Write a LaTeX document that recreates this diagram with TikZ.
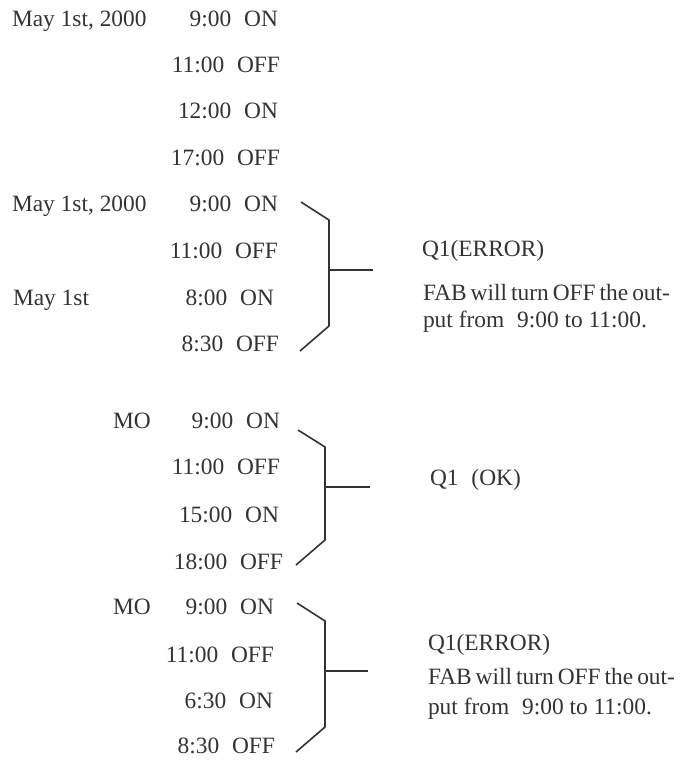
\documentclass[tikz,border=0pt]{standalone}
\usepackage{fontspec}
\setmainfont{Liberation Serif}
\usepackage{xcolor}
\usetikzlibrary{positioning}
\definecolor{inkgray}{HTML}{333333}
\newcommand{\gp}{\hspace{0.55em}}
\newcommand{\tight}{\spaceskip=0.17em\relax}

\begin{document}
\begin{tikzpicture}[x=0.5pt,y=-0.5pt,
    every node/.style={inner sep=0pt,outer sep=0pt,text=inkgray,font=\fontsize{11.7pt}{14pt}\selectfont},
    timebox/.style={anchor=base east},
    datebox/.style={anchor=base west},
    notebox/.style={anchor=base west},
    bracket/.style={draw=inkgray,line width=0.8pt}]
  \useasboundingbox (0,0) rectangle (682,761);
  % first list (no bracket)
  \foreach \y/\x/\txt [count=\i] in {26/278/9:00\gp ON,72/280/11:00\gp OFF,118/278/12:00\gp ON,165/280/17:00\gp OFF}
    \node[timebox] (a\i) at (\x,\y) {\txt};
  \node[datebox] (dateA) at (12,26) {May 1st, 2000};
  % second list
  \foreach \y/\x/\txt [count=\i] in {211/278/9:00\gp ON,258/278/11:00\gp OFF,305/274/8:00\gp ON,351/279/8:30\gp OFF}
    \node[timebox] (b\i) at (\x,\y) {\txt};
  \node[datebox] (dateB) at (12,211) {May 1st, 2000};
  \node[datebox] (dateC) at (13,305) {May 1st};
  \coordinate (b1a) at (301,202); \coordinate (b1b) at (329,220);
  \coordinate (b1c) at (329,326); \coordinate (b1d) at (300,351);
  \coordinate (b1m) at (329,270); \coordinate (b1e) at (373,270);
  \draw[bracket] (b1a) -- (b1b) -- (b1c) -- (b1d);
  \draw[bracket] (b1m) -- (b1e);
  \node[notebox] (errA) at (422,256) {Q1(ERROR)};
  \node[notebox] (fabA) at (423,300) {\tight FAB will turn OFF the out-};
  \node[notebox] (putA) at (423,327) {put from\gp 9:00 to 11:00.};
  % third list
  \foreach \y/\x/\txt [count=\i] in {428/280/9:00\gp ON,474/280/11:00\gp OFF,522/279/15:00\gp ON,569/283/18:00\gp OFF}
    \node[timebox] (c\i) at (\x,\y) {\txt};
  \node[datebox] (moA) at (113,428) {MO};
  \coordinate (b2a) at (298,430); \coordinate (b2b) at (325,447);
  \coordinate (b2c) at (325,540); \coordinate (b2d) at (296,565);
  \coordinate (b2m) at (325,487); \coordinate (b2e) at (370,487);
  \draw[bracket] (b2a) -- (b2b) -- (b2c) -- (b2d);
  \draw[bracket] (b2m) -- (b2e);
  \node[notebox] (okB) at (430,485) {Q1\gp(OK)};
  % fourth list
  \foreach \y/\x/\txt [count=\i] in {614/274/9:00\gp ON,662/274/11:00\gp OFF,708/273/6:30\gp ON,753/275/8:30\gp OFF}
    \node[timebox] (d\i) at (\x,\y) {\txt};
  \node[datebox] (moB) at (113,614) {MO};
  \coordinate (b3a) at (297,603); \coordinate (b3b) at (325,621);
  \coordinate (b3c) at (325,727); \coordinate (b3d) at (296,752);
  \coordinate (b3m) at (325,671); \coordinate (b3e) at (368,671);
  \draw[bracket] (b3a) -- (b3b) -- (b3c) -- (b3d);
  \draw[bracket] (b3m) -- (b3e);
  \node[notebox] (errC) at (428,650) {Q1(ERROR)};
  \node[notebox] (fabC) at (428,684) {\tight FAB will turn OFF the out-};
  \node[notebox] (putC) at (428,714) {put from\gp 9:00 to 11:00.};
\end{tikzpicture}
\end{document}
